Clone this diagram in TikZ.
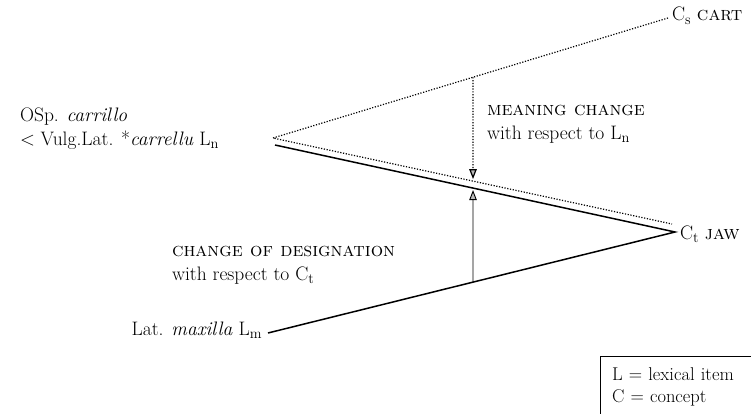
\documentclass[tikz,border=0pt]{standalone}
\usetikzlibrary{arrows.meta,positioning,calc}

\begin{document}
\begin{tikzpicture}[
  x=1pt, y=-1pt,
  font=\fontsize{19.5}{24}\selectfont,
  every node/.append style={inner sep=0pt, outer sep=0pt},
  lbl/.style={align=left},
  solidline/.style={line width=1.5pt},
  dotline/.style={line width=1.2pt, dash pattern=on 1.2pt off 1.6pt},
  tip/.style={-{Triangle[open, fill=gray!55, width=7.5pt, length=10pt]}},
]
\clip (0,0) rectangle (751,414);

% Vertices
\coordinate (ln) at (273,138);
\coordinate (lnsolid) at (275,145);
\coordinate (cs) at (668,18);
\coordinate (ct) at (675,232);
\coordinate (ctdot) at (672,224);
\coordinate (lm) at (268,333);

% Labels
\node[lbl, anchor=west] (osp) at (20,129)
  {OSp. \textit{carrillo}\\
   {<} Vulg.Lat. *\textit{carrellu} L$_\mathrm{n}$};
\node[anchor=base west] (cslbl) at (672,21) {C$_\mathrm{s}$ \textsc{cart}};
\node[anchor=base west] (ctlbl) at (680,239) {C$_\mathrm{t}$ \textsc{jaw}};
\node[anchor=base east] (lmlbl) at ($(lm)+(-6,2)$) {Lat. \textit{maxilla} L$_\mathrm{m}$};

\node[lbl, anchor=west] (meaning) at (487,124)
  {\textsc{meaning change}\\with respect to L$_\mathrm{n}$};
\node[lbl, anchor=west] (design) at (172,265)
  {\textsc{change of designation}\\with respect to C$_\mathrm{t}$};

% Lines
\draw[dotline] (cs) -- (ln) -- (ctdot);
\draw[solidline] (lnsolid) -- (ct) -- (lm);

% Arrows
\coordinate (top) at (intersection of ln--cs and 473,0--473,400);
\coordinate (mid) at (intersection of ln--ctdot and 473,0--473,400);
\coordinate (bot) at (intersection of lm--ct and 473,0--473,400);
\coordinate (midsolid) at (intersection of lnsolid--ct and 473,0--473,400);
\draw[dotline, tip] (top) -- ($(mid)+(0,-2)$);
\draw[line width=0.9pt, tip] (bot) -- ($(midsolid)+(0,2)$);

% Legend
\node[anchor=north west, text width=160pt, align=left,
  inner xsep=12pt, inner ysep=12pt,
  font=\fontsize{18.5}{22}\selectfont]
  (legend) at (600,356)
  {L = lexical item\\C = concept};
\draw[line width=0.8pt] (legend.north west) rectangle ++(190,80);

\end{tikzpicture}
\end{document}
